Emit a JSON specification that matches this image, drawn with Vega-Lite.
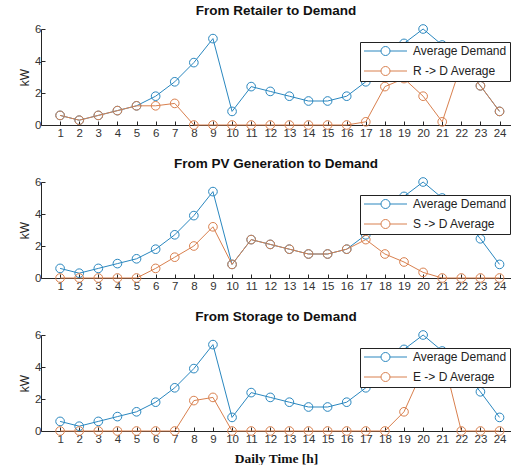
{
  "$schema": "https://vega.github.io/schema/vega-lite/v6.json",
  "background": "white",
  "padding": {"left": 18, "top": 4, "right": 0, "bottom": 0},
  "spacing": 18,
  "data": {"values": [
    {"h": 1, "demand": 0.6, "rd": 0.6, "sd": 0, "ed": 0},
    {"h": 2, "demand": 0.3, "rd": 0.3, "sd": 0, "ed": 0},
    {"h": 3, "demand": 0.6, "rd": 0.6, "sd": 0, "ed": 0},
    {"h": 4, "demand": 0.9, "rd": 0.9, "sd": 0, "ed": 0},
    {"h": 5, "demand": 1.2, "rd": 1.2, "sd": 0, "ed": 0},
    {"h": 6, "demand": 1.8, "rd": 1.2, "sd": 0.6, "ed": 0},
    {"h": 7, "demand": 2.7, "rd": 1.35, "sd": 1.3, "ed": 0},
    {"h": 8, "demand": 3.9, "rd": 0, "sd": 2.0, "ed": 1.9},
    {"h": 9, "demand": 5.4, "rd": 0, "sd": 3.2, "ed": 2.1},
    {"h": 10, "demand": 0.85, "rd": 0, "sd": 0.85, "ed": 0},
    {"h": 11, "demand": 2.4, "rd": 0, "sd": 2.4, "ed": 0},
    {"h": 12, "demand": 2.1, "rd": 0, "sd": 2.1, "ed": 0},
    {"h": 13, "demand": 1.8, "rd": 0, "sd": 1.8, "ed": 0},
    {"h": 14, "demand": 1.5, "rd": 0, "sd": 1.5, "ed": 0},
    {"h": 15, "demand": 1.5, "rd": 0, "sd": 1.5, "ed": 0},
    {"h": 16, "demand": 1.8, "rd": 0, "sd": 1.8, "ed": 0},
    {"h": 17, "demand": 2.7, "rd": 0.2, "sd": 2.4, "ed": 0},
    {"h": 18, "demand": 3.9, "rd": 2.4, "sd": 1.5, "ed": 0},
    {"h": 19, "demand": 5.1, "rd": 2.9, "sd": 1.0, "ed": 1.2},
    {"h": 20, "demand": 6.0, "rd": 1.8, "sd": 0.35, "ed": 3.85},
    {"h": 21, "demand": 5.0, "rd": 0.2, "sd": 0, "ed": 4.8},
    {"h": 22, "demand": 3.9, "rd": 3.8, "sd": 0, "ed": 0},
    {"h": 23, "demand": 2.45, "rd": 2.45, "sd": 0, "ed": 0},
    {"h": 24, "demand": 0.85, "rd": 0.85, "sd": 0, "ed": 0}
  ]},
  "resolve": {"scale": {"color": "independent"}, "legend": {"color": "independent"}},
  "vconcat": [
    {
      "title": "From Retailer to Demand",
      "width": 470, "height": 96,
      "transform": [{"fold": ["demand", "rd"], "as": ["series", "kW"]}],
      "encoding": {
        "x": {"field": "h", "type": "quantitative", "scale": {"domain": [0, 24.6], "nice": false}, "axis": {"values": [1,2,3,4,5,6,7,8,9,10,11,12,13,14,15,16,17,18,19,20,21,22,23,24], "title": null}},
        "y": {"field": "kW", "type": "quantitative", "scale": {"domain": [0, 6], "nice": false}, "axis": {"values": [0, 2, 4, 6], "title": "kW"}},
        "color": {"field": "series", "type": "nominal", "scale": {"domain": ["demand", "rd"], "range": ["#2a87bf", "#d9804e"]},
          "legend": {"labelExpr": "datum.label == 'demand' ? 'Average Demand' : 'R -> D Average'"}}
      },
      "layer": [
        {"mark": {"type": "line", "strokeWidth": 1}},
        {"mark": {"type": "point", "filled": false, "size": 75, "strokeWidth": 1, "opacity": 1}}
      ]
    },
    {
      "title": "From PV Generation to Demand",
      "width": 470, "height": 96,
      "transform": [{"fold": ["demand", "sd"], "as": ["series", "kW"]}],
      "encoding": {
        "x": {"field": "h", "type": "quantitative", "scale": {"domain": [0, 24.6], "nice": false}, "axis": {"values": [1,2,3,4,5,6,7,8,9,10,11,12,13,14,15,16,17,18,19,20,21,22,23,24], "title": null}},
        "y": {"field": "kW", "type": "quantitative", "scale": {"domain": [0, 6], "nice": false}, "axis": {"values": [0, 2, 4, 6], "title": "kW"}},
        "color": {"field": "series", "type": "nominal", "scale": {"domain": ["demand", "sd"], "range": ["#2a87bf", "#d9804e"]},
          "legend": {"labelExpr": "datum.label == 'demand' ? 'Average Demand' : 'S -> D Average'"}}
      },
      "layer": [
        {"mark": {"type": "line", "strokeWidth": 1}},
        {"mark": {"type": "point", "filled": false, "size": 75, "strokeWidth": 1, "opacity": 1}}
      ]
    },
    {
      "title": "From Storage to Demand",
      "width": 470, "height": 96,
      "transform": [{"fold": ["demand", "ed"], "as": ["series", "kW"]}],
      "encoding": {
        "x": {"field": "h", "type": "quantitative", "scale": {"domain": [0, 24.6], "nice": false}, "axis": {"values": [1,2,3,4,5,6,7,8,9,10,11,12,13,14,15,16,17,18,19,20,21,22,23,24], "title": "Daily Time [h]", "titleFont": "Liberation Serif", "titleFontWeight": "bold", "titleFontSize": 13.5, "titleColor": "#111", "titlePadding": 7}},
        "y": {"field": "kW", "type": "quantitative", "scale": {"domain": [0, 6], "nice": false}, "axis": {"values": [0, 2, 4, 6], "title": "kW"}},
        "color": {"field": "series", "type": "nominal", "scale": {"domain": ["demand", "ed"], "range": ["#2a87bf", "#d9804e"]},
          "legend": {"labelExpr": "datum.label == 'demand' ? 'Average Demand' : 'E -> D Average'"}}
      },
      "layer": [
        {"mark": {"type": "line", "strokeWidth": 1}},
        {"mark": {"type": "point", "filled": false, "size": 75, "strokeWidth": 1, "opacity": 1}}
      ]
    }
  ],
  "config": {
    "view": {"stroke": null},
    "title": {"font": "Liberation Sans", "fontSize": 13.5, "fontWeight": "bold", "color": "#111", "anchor": "middle", "offset": 5},
    "axis": {"grid": false, "domainColor": "#262626", "tickColor": "#262626", "labelColor": "#333", "labelFont": "Liberation Sans", "labelFontSize": 11.5, "tickSize": -4, "labelPadding": 6, "titleFont": "Liberation Sans", "titleFontWeight": "normal", "titleFontSize": 12, "titleColor": "#262626", "domainWidth": 1, "tickWidth": 1},
    "axisY": {"labelPadding": 4, "titlePadding": 3},
    "legend": {
      "orient": "none", "legendX": 319, "legendY": 13,
      "title": null,
      "strokeColor": "#222", "fillColor": "white", "cornerRadius": 0, "padding": 3,
      "symbolType": "M-1,0H2.4M4.2,0H7.6M4.2,0A0.9,0.9 0 1,1 2.4,0A0.9,0.9 0 1,1 4.2,0",
      "symbolSize": 100, "symbolStrokeWidth": 1, "symbolFillColor": "transparent",
      "labelFont": "Liberation Sans", "labelFontSize": 12, "labelColor": "#222",
      "rowPadding": 6, "labelOffset": 38
    }
  }
}
